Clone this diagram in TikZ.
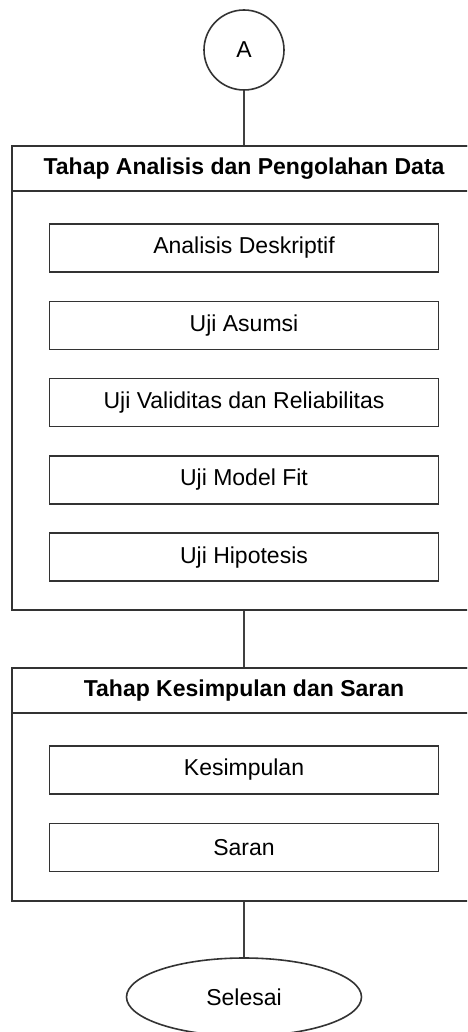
\documentclass[tikz,border=0pt]{standalone}
\usepackage{fontspec}
\setmainfont{Liberation Sans}
\usetikzlibrary{shapes.geometric}

\tikzset{
  frame/.style={draw=black!80, line width=1.6pt, rectangle, minimum width=464pt, inner sep=0pt},
  header/.style={frame, minimum height=45pt, font=\fontsize{23}{27}\selectfont\bfseries},
  stepbox/.style={draw=black!80, line width=1.6pt, rectangle, minimum width=389pt, minimum height=48pt, inner sep=0pt, font=\fontsize{23}{27}\selectfont},
  link/.style={draw=black!75, line width=1.6pt}
}

\begin{document}
\begin{tikzpicture}[x=1pt, y=-1pt]
    \useasboundingbox (0,0) rectangle (467,1032);
    \clip (0,0) rectangle (467,1032);
    \def\cx{244};
    \def\gap{77.3}; %distance between steps%

    % connector A
    \node[draw=black!80, line width=1.6pt, circle, minimum size=80pt, inner sep=0pt,
          font=\fontsize{23}{27}\selectfont] (A) at (\cx,50) {A};

    % analysis stage
    \node[frame, minimum height=464pt] (stage1) at (\cx,378) {};
    \node[header, anchor=north] (head1) at (stage1.north) {Tahap Analisis dan Pengolahan Data};
    \node[stepbox] (desc) at (\cx,248) {Analisis Deskriptif};
    \node[stepbox] (asum) at (\cx,{248+\gap}) {Uji Asumsi};
    \node[stepbox] (valid) at (\cx,{248+2*\gap}) {Uji Validitas dan Reliabilitas};
    \node[stepbox] (fit) at (\cx,{248+3*\gap}) {Uji Model Fit};
    \node[stepbox] (hipo) at (\cx,{248+4*\gap}) {Uji Hipotesis};

    % conclusion stage
    \node[frame, minimum height=233pt] (stage2) at (\cx,784.5) {};
    \node[header, anchor=north] (head2) at (stage2.north) {Tahap Kesimpulan dan Saran};
    \node[stepbox] (simp) at (\cx,770) {Kesimpulan};
    \node[stepbox] (saran) at (\cx,{770+\gap}) {Saran};

    % end
    \node[draw=black!80, line width=1.6pt, ellipse, minimum width=235pt, minimum height=78pt,
          inner sep=0pt, font=\fontsize{23}{27}\selectfont] (end) at (\cx,997) {Selesai};

    \draw[link] (A) -- (head1);
    \draw[link] (stage1) -- (head2);
    \draw[link] (stage2) -- (end);
\end{tikzpicture}
\end{document}
